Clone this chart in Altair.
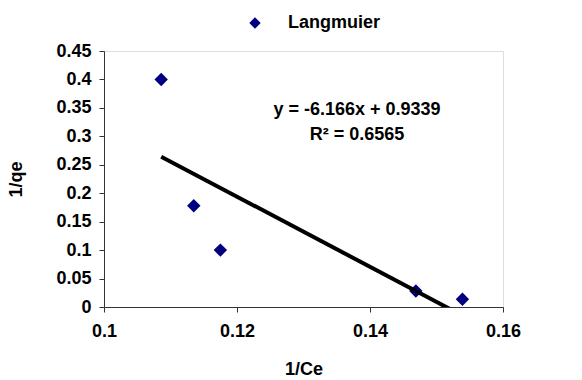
import altair as alt
import pandas as pd

# data
x_vals = [0.1086, 0.1135, 0.1175, 0.1469, 0.1539]
y_vals = [0.400, 0.178, 0.100, 0.028, 0.0135]
series_name = ["Langmuier"] * 5

slope = -6.166
intercept = 0.9339
r2 = 0.6565

x_ticks = [0.1, 0.12, 0.14, 0.16]
y_ticks = [0, 0.05, 0.1, 0.15, 0.2, 0.25, 0.3, 0.35, 0.4, 0.45]

eq_text = f"y = {slope}x + {intercept}\nR\u00b2 = {r2}"

FONT = "Liberation Sans"
FS = 18

pts = pd.DataFrame({"x": x_vals, "y": y_vals, "s": series_name})
x_line = [min(x_vals), max(x_vals)]
line = pd.DataFrame({"x": x_line, "y": [slope * v + intercept for v in x_line]})
eq = pd.DataFrame({"t": [eq_text]})

xs = alt.Scale(domain=[0.1, 0.16], nice=False, zero=False)
ys = alt.Scale(domain=[0, 0.45], nice=False)

xaxis = alt.Axis(values=x_ticks, format=".2~f", title="1/Ce", grid=False,
                 labelFont=FONT, labelFontSize=FS, labelFontWeight="bold",
                 titleFont=FONT, titleFontSize=FS, titleFontWeight="bold",
                 labelColor="black", titleColor="black", labelPadding=10,
                 titlePadding=20, domainColor="#333", tickColor="#333", tickSize=5,
                 labelFlush=False)
yaxis = alt.Axis(values=y_ticks, format=".2~f", title="1/qe", grid=False,
                 labelFont=FONT, labelFontSize=FS, labelFontWeight="bold",
                 titleFont=FONT, titleFontSize=FS, titleFontWeight="bold",
                 labelColor="black", titleColor="black", labelPadding=8,
                 titlePadding=30, domainColor="#333", tickColor="#333", tickSize=5)

points = alt.Chart(pts).mark_point(filled=True, shape="diamond", size=180, opacity=1).encode(
    x=alt.X("x:Q", scale=xs, axis=xaxis),
    y=alt.Y("y:Q", scale=ys, axis=yaxis),
    color=alt.Color("s:N", scale=alt.Scale(range=["#000080"]),
                    legend=alt.Legend(title=None, orient="none", legendX=142, legendY=-37,
                                      padding=0, symbolType="diamond", symbolSize=130,
                                      labelOffset=24, labelFont=FONT, labelFontSize=FS,
                                      labelFontWeight="bold", labelColor="black")),
)

trend = alt.Chart(line).mark_line(color="black", strokeWidth=4, clip=True).encode(
    x=alt.X("x:Q", scale=xs, axis=xaxis), y=alt.Y("y:Q", scale=ys, axis=yaxis)
)

eqtext = alt.Chart(eq).mark_text(font=FONT, fontSize=FS, fontWeight="bold", color="black",
                                 align="center", baseline="middle", lineBreak="\n",
                                 lineHeight=25).encode(
    text="t:N",
    x=alt.value(253),
    y=alt.value(59),
)

chart = alt.layer(points, trend, eqtext).properties(
    width=399, height=256,
    autosize=alt.AutoSizeParams(type="none"),
    padding={"left": 104, "top": 51, "right": 79, "bottom": 73},
).configure_view(stroke="#888", strokeWidth=2).configure(background="white")

chart.save("out.html", embed_options={"renderer": "svg", "actions": False})
